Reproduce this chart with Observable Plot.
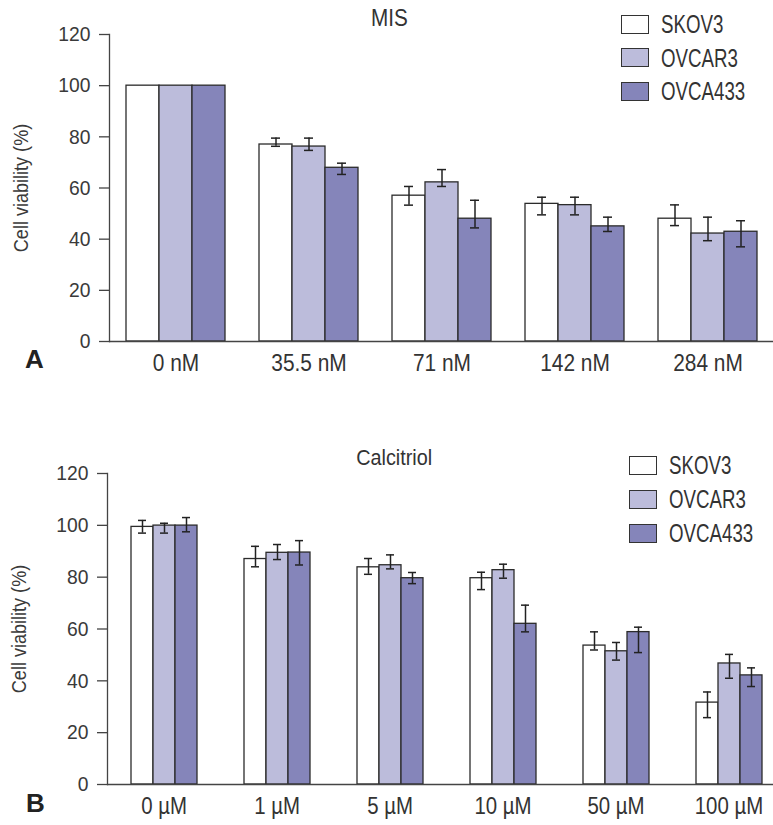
<!DOCTYPE html>
<html>
<head>
<meta charset="utf-8">
<script src="https://cdn.jsdelivr.net/npm/d3@7"></script>
<script src="https://cdn.jsdelivr.net/npm/@observablehq/plot@0.6"></script>
<style>
  html, body { margin: 0; padding: 0; background: #fff; overflow: hidden; }
  #wrap { position: relative; width: 773px; height: 825px; font-family: "Liberation Sans", Arial, sans-serif; color: #333; }
  .panel { position: absolute; left: 0; }
  .ttl { position: absolute; line-height: 1; color: #333; white-space: nowrap; transform-origin: 50% 50%; }
  .lab { position: absolute; font-weight: bold; font-size: 26px; line-height: 1; color: #222; }
  .leg { position: absolute; display: flex; align-items: center; line-height: 1; color: #333; white-space: nowrap; }
  .sw { width: 26px; height: 17px; border: 1.4px solid #333; margin-right: 12px; box-sizing: content-box; flex: none; }
  .lt { display: inline-block; font-size: 26px; transform: scaleX(0.72); transform-origin: 0 50%; }
</style>
</head>
<body>
<div id="wrap"></div>
<script>
// ---------- data ----------
const cellLines = ["SKOV3", "OVCAR3", "OVCA433"];
const lineColors = ["#ffffff", "#bcbcdb", "#8585ba"];
const yTicks = [0, 20, 40, 60, 80, 100, 120];

// Panel A: MIS
const misConc = ["0 nM", "35.5 nM", "71 nM", "142 nM", "284 nM"];
const misSKOV3   = [100, 77.0, 57.0, 53.8, 48.0];
const misSKOV3Lo = [null, 76.3, 53.3, 49.5, 45.3];
const misSKOV3Hi = [null, 79.5, 60.6, 56.4, 53.4];
const misOVCAR3   = [100, 76.2, 62.2, 53.3, 42.2];
const misOVCAR3Lo = [null, 74.7, 60.6, 49.5, 39.4];
const misOVCAR3Hi = [null, 79.5, 67.2, 56.4, 48.6];
const misOVCA433   = [100, 67.9, 48.0, 45.0, 42.9];
const misOVCA433Lo = [null, 65.3, 44.4, 43.0, 37.0];
const misOVCA433Hi = [null, 69.7, 55.2, 48.6, 47.2];

// Panel B: Calcitriol
const calConc = ["0 µM", "1 µM", "5 µM", "10 µM", "50 µM", "100 µM"];
const calSKOV3   = [99.4, 87.0, 83.8, 79.6, 53.6, 31.6];
const calSKOV3Lo = [97.0, 84.0, 81.1, 75.2, 51.9, 25.8];
const calSKOV3Hi = [101.9, 91.9, 87.2, 81.9, 58.9, 35.7];
const calOVCAR3   = [99.9, 89.4, 84.6, 82.7, 51.4, 46.7];
const calOVCAR3Lo = [97.0, 86.8, 83.2, 79.6, 48.0, 41.0];
const calOVCAR3Hi = [100.8, 92.6, 88.6, 85.0, 54.8, 50.2];
const calOVCA433   = [99.9, 89.5, 79.6, 62.0, 58.8, 42.1];
const calOVCA433Lo = [97.5, 84.7, 77.5, 58.9, 50.9, 37.8];
const calOVCA433Hi = [103.0, 94.1, 81.8, 69.2, 60.7, 45.0];

function rowsOf(conc, vals, los, his) {
  const rows = [];
  conc.forEach((c, i) => {
    cellLines.forEach((l, j) => {
      rows.push({conc: c, line: l, value: vals[j][i], lo: los[j][i], hi: his[j][i]});
    });
  });
  return rows;
}

const rowsA = rowsOf(misConc, [misSKOV3, misOVCAR3, misOVCA433], [misSKOV3Lo, misOVCAR3Lo, misOVCA433Lo], [misSKOV3Hi, misOVCAR3Hi, misOVCA433Hi]);
const rowsB = rowsOf(calConc, [calSKOV3, calOVCAR3, calOVCA433], [calSKOV3Lo, calOVCAR3Lo, calOVCA433Lo], [calSKOV3Hi, calOVCAR3Hi, calOVCA433Hi]);

const FONT = '"Liberation Sans", Arial, sans-serif';

function makePanel(rows, conc, o) {
  return Plot.plot({
    width: 773,
    height: o.height,
    marginTop: o.marginTop,
    marginBottom: o.marginBottom,
    marginLeft: o.marginLeft,
    marginRight: o.marginRight,
    style: {fontFamily: FONT, color: "#333", background: "transparent", overflow: "hidden"},
    fx: {domain: conc, padding: 0},
    x: {domain: cellLines, paddingInner: 0, paddingOuter: o.xPadOuter, axis: null},
    y: {domain: [0, 120]},
    color: {domain: cellLines, range: lineColors},
    marks: [
      Plot.barY(rows, {fx: "conc", x: "line", y: "value", fill: "line", stroke: "#2b2b2b", strokeWidth: 1.3}),
      Plot.ruleX(rows, {fx: "conc", x: "line", y1: "lo", y2: "hi", stroke: "#222", strokeWidth: 1.5}),
      Plot.tickY(rows, {fx: "conc", x: "line", y: "lo", insetLeft: o.capInset, insetRight: o.capInset, stroke: "#222", strokeWidth: 1.5}),
      Plot.tickY(rows, {fx: "conc", x: "line", y: "hi", insetLeft: o.capInset, insetRight: o.capInset, stroke: "#222", strokeWidth: 1.5}),
      Plot.ruleY([0], {stroke: "#444", strokeWidth: 1.3}),
      Plot.frame({anchor: "left", facetAnchor: "left", stroke: "#444", strokeWidth: 1.3}),
      Plot.axisY({
        ticks: yTicks, tickSize: 10, tickPadding: 9, fontSize: 21, stroke: "#444", strokeWidth: 1.3,
        fill: "#3a3a3a", label: "Cell viability (%)", labelAnchor: "center", labelOffset: 96, labelArrow: "none"
      }),
      Plot.axisFx({anchor: "bottom", tickSize: 0, tickPadding: 12, fontSize: 24, fill: "#333", label: null})
    ]
  });
}

// horizontal condensing of text glyphs (the reference uses a condensed face)
function condense(svg, selector, s) {
  svg.querySelectorAll(selector).forEach(t => {
    const tr = t.getAttribute("transform") || "";
    t.setAttribute("transform", tr + ` scale(${s},1)`);
  });
}
function styleSvg(svg, fxScale) {
  condense(svg, 'g[aria-label="fx-axis tick label"] text', fxScale);
  condense(svg, 'g[aria-label="y-axis tick label"] text', 0.92);
  condense(svg, 'g[aria-label="y-axis label"] text', 0.86);
}

const wrap = document.getElementById("wrap");

// Panel A
const pA = document.createElement("div");
pA.className = "panel"; pA.style.top = "0px";
const svgA = makePanel(rowsA, misConc, {height: 386, marginTop: 34, marginBottom: 45, marginLeft: 108, marginRight: -2, xPadOuter: 0.46, capInset: 12});
styleSvg(svgA, 0.87);
pA.appendChild(svgA);
wrap.appendChild(pA);

// Panel B
const pB = document.createElement("div");
pB.className = "panel"; pB.style.top = "400px";
const svgB = makePanel(rowsB, calConc, {height: 425, marginTop: 73, marginBottom: 41, marginLeft: 107, marginRight: -12, xPadOuter: 1.03, capInset: 7});
styleSvg(svgB, 0.85);
pB.appendChild(svgB);
wrap.appendChild(pB);

// Titles, panel letters, legends (HTML overlays)
function addText(cls, txt, x, y, size, sx) {
  const d = document.createElement("div");
  d.className = cls; d.textContent = txt;
  d.style.top = y + "px";
  if (size) d.style.fontSize = size + "px";
  wrap.appendChild(d);
  if (cls === "ttl") {
    const w = d.getBoundingClientRect().width;
    d.style.left = (x - w / 2) + "px";
    d.style.transform = `scaleX(${sx})`;
  } else {
    d.style.left = x + "px";
  }
  return d;
}
addText("ttl", "MIS", 389, 7, 23, 0.9);
addText("ttl", "Calcitriol", 394, 447, 22, 0.9);
addText("lab", "A", 25, 346);
addText("lab", "B", 26, 790);

function addLegend(x, y, step) {
  cellLines.forEach((l, i) => {
    const d = document.createElement("div");
    d.className = "leg";
    d.style.left = x + "px"; d.style.top = (y + i * step) + "px";
    const s = document.createElement("span");
    s.className = "sw"; s.style.background = lineColors[i];
    const t = document.createElement("span");
    t.className = "lt";
    t.textContent = l;
    d.appendChild(s); d.appendChild(t);
    wrap.appendChild(d);
  });
}
addLegend(621, 11, 33.5);
addLegend(629, 452, 34);
</script>
</body>
</html>
